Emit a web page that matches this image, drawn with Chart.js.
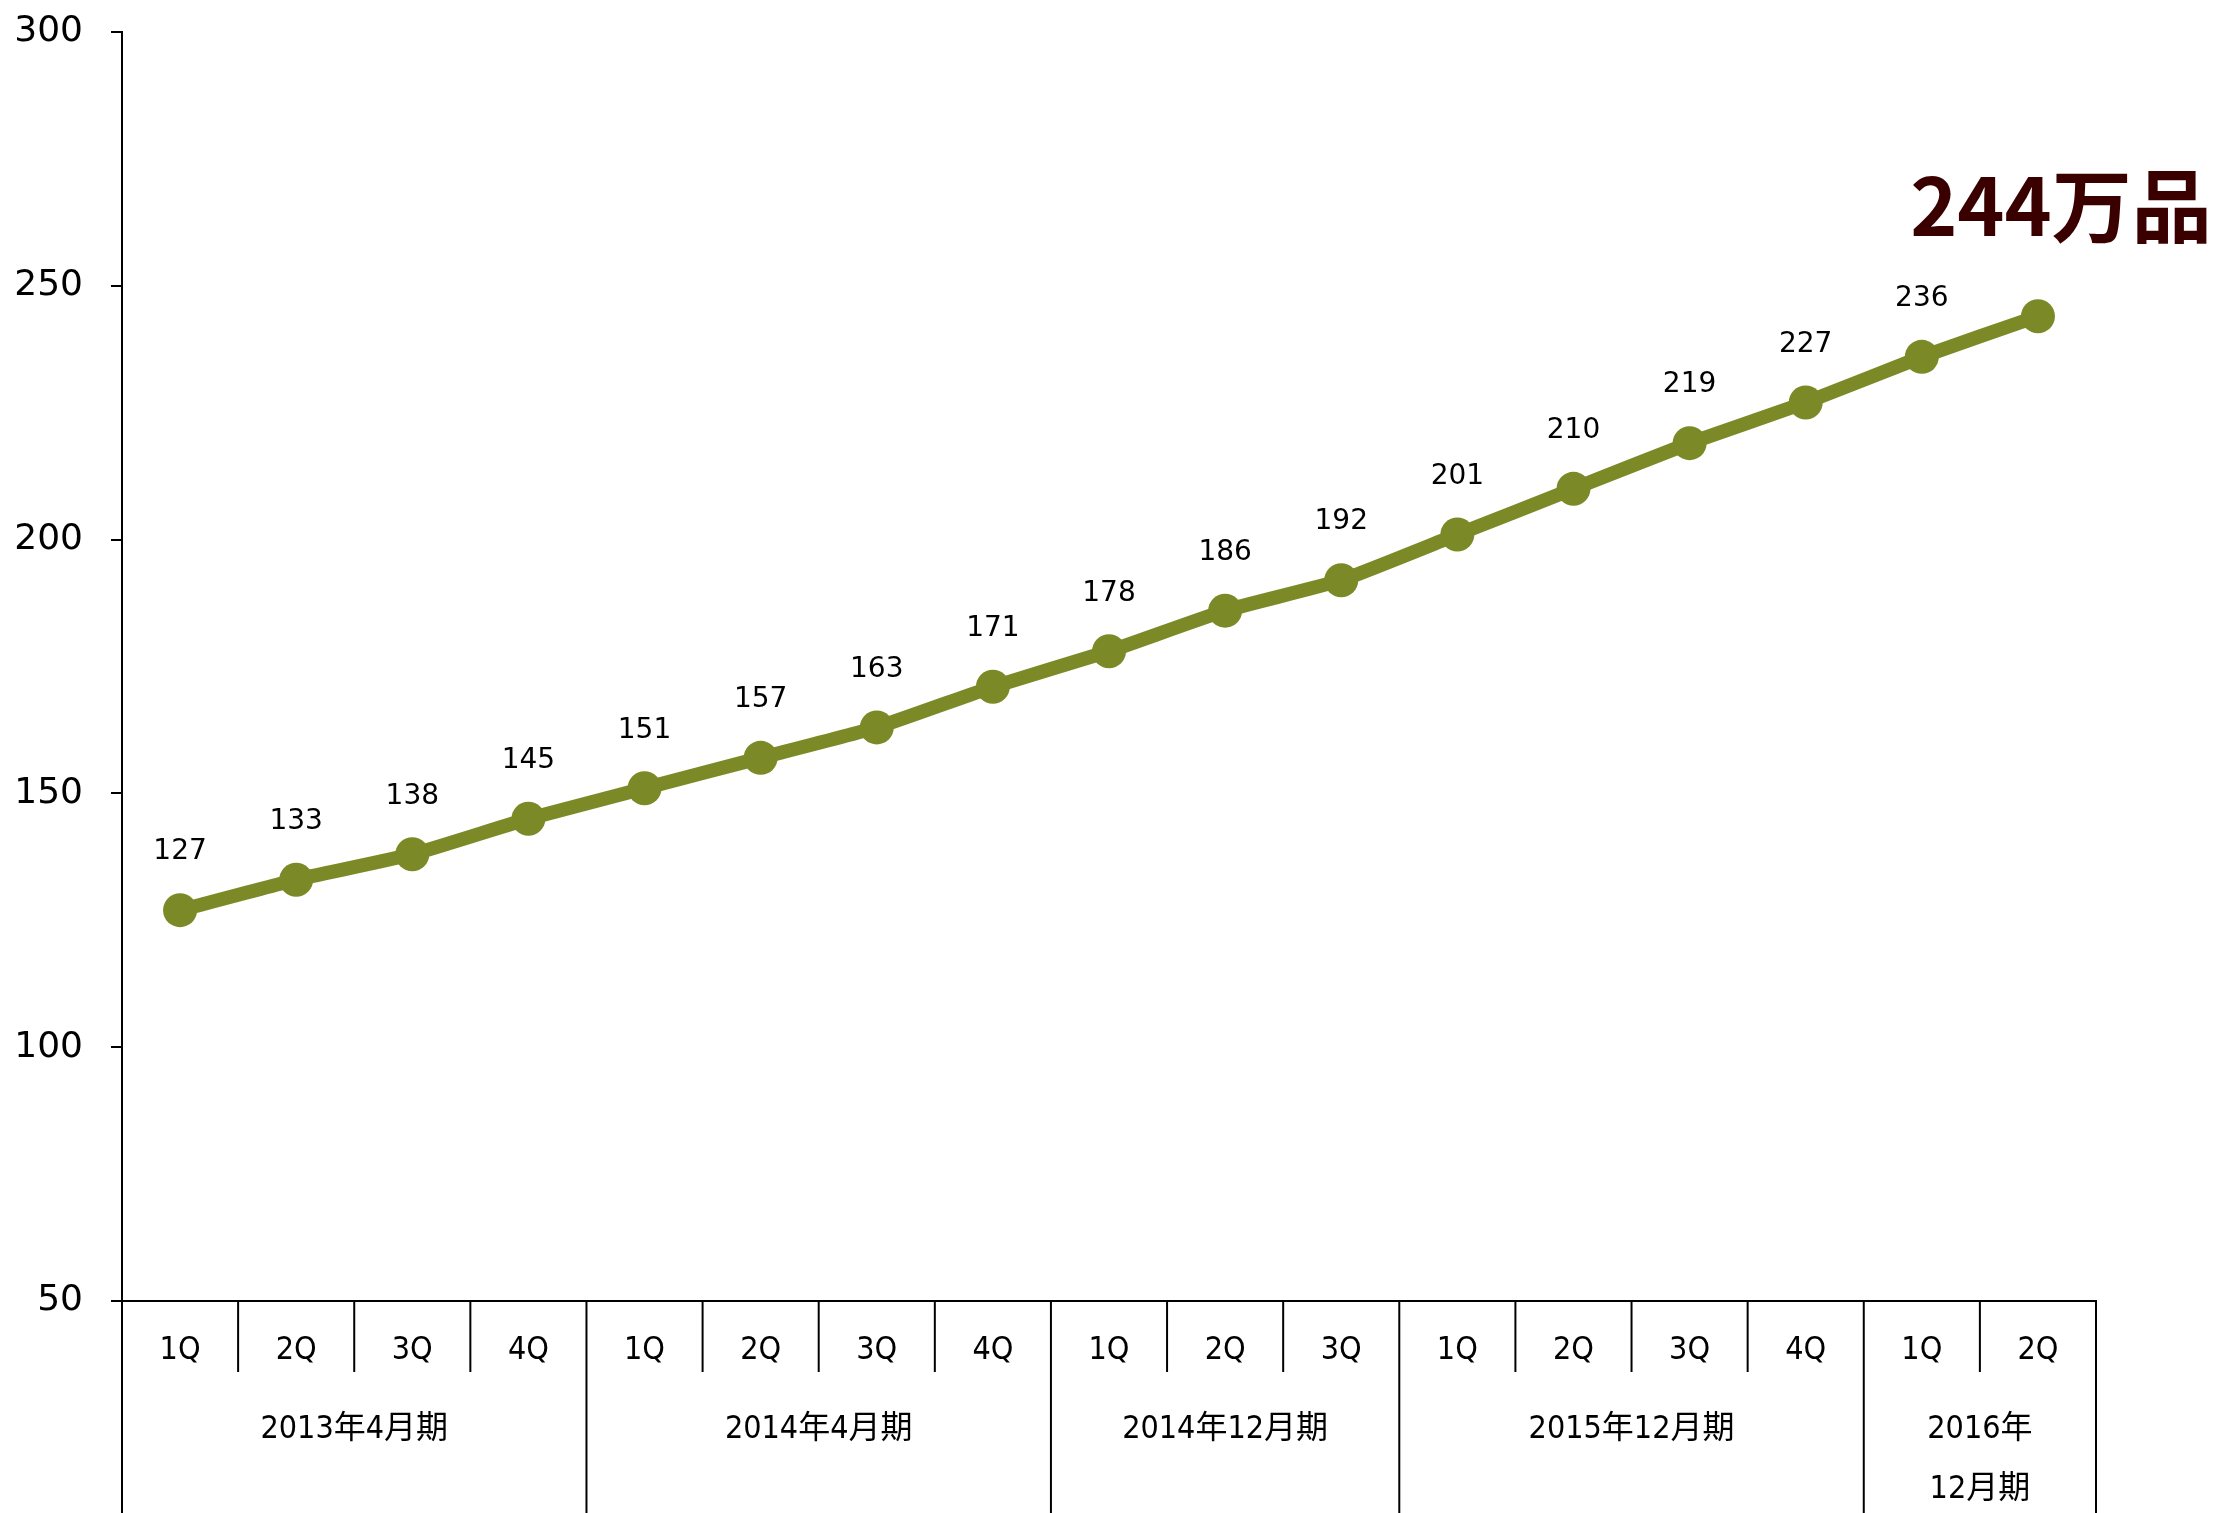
<!DOCTYPE html>
<html>
<head>
<meta charset="utf-8">
<script src="https://cdn.jsdelivr.net/npm/chart.js@4.4.0/dist/chart.umd.min.js"></script>
<style>
  html, body { margin: 0; padding: 0; background: #fff; }
  canvas { display: block; }
</style>
</head>
<body>
<canvas id="chart" width="2236" height="1513"></canvas>
<script>
// データ
const quarters = ['1Q', '2Q', '3Q', '4Q', '1Q', '2Q', '3Q', '4Q', '1Q', '2Q', '3Q', '1Q', '2Q', '3Q', '4Q', '1Q', '2Q'];
const values = [127, 133, 138, 145, 151, 157, 163, 171, 178, 186, 192, 201, 210, 219, 227, 236, 244];
const groupLabels = [['2013年4月期'], ['2014年4月期'], ['2014年12月期'], ['2015年12月期'], ['2016年', '12月期']];
const groupSizes = [4, 4, 3, 4, 2];
const yTicks = [50, 100, 150, 200, 250, 300];
const highlightText = '244万品';

const lineColor = '#7b8a27';
const labelFont = '32px "DejaVu Sans Condensed", "Noto Sans CJK JP", sans-serif';

// 値ラベル（最後の点は大きいラベル）
const valueLabels = {
  id: 'valueLabels',
  afterDatasetsDraw(chart) {
    const ctx = chart.ctx;
    const pts = chart.getDatasetMeta(0).data;
    ctx.save();
    ctx.fillStyle = '#000';
    ctx.font = '28px "DejaVu Sans", sans-serif';
    ctx.textAlign = 'center';
    ctx.textBaseline = 'middle';
    for (let i = 0; i < pts.length - 1; i++) {
      ctx.fillText(values[i], pts[i].x, pts[i].y - 58);
    }
    const last = pts[pts.length - 1];
    ctx.fillStyle = '#3a0000';
    ctx.font = 'bold 80px "Noto Sans CJK JP", sans-serif';
    ctx.textBaseline = 'alphabetic';
    ctx.fillText(highlightText, last.x + 23, last.y - 80);
    ctx.restore();
  }
};

// 区切り線と期ラベル
const groupAxis = {
  id: 'groupAxis',
  afterDraw(chart) {
    const ctx = chart.ctx;
    const xs = chart.scales.x;
    const area = chart.chartArea;
    const bottom = chart.height;
    const edge = i => (xs.getPixelForValue(i - 1) + xs.getPixelForValue(i)) / 2;
    ctx.save();
    ctx.strokeStyle = '#000';
    ctx.lineWidth = 2;

    // 縦の外枠
    ctx.beginPath();
    ctx.moveTo(xs.left, area.bottom); ctx.lineTo(xs.left, bottom);
    ctx.moveTo(xs.right, area.bottom); ctx.lineTo(xs.right, bottom);
    ctx.stroke();

    let start = 0;
    ctx.fillStyle = '#000';
    ctx.font = labelFont;
    ctx.textAlign = 'center';
    ctx.textBaseline = 'middle';
    groupSizes.forEach((n, g) => {
      const end = start + n;
      // 四半期の区切り
      for (let i = start + 1; i < end; i++) {
        ctx.beginPath();
        ctx.moveTo(edge(i), area.bottom);
        ctx.lineTo(edge(i), area.bottom + 71);
        ctx.stroke();
      }
      // 期の区切り
      if (end < values.length) {
        ctx.beginPath();
        ctx.moveTo(edge(end), area.bottom);
        ctx.lineTo(edge(end), bottom);
        ctx.stroke();
      }
      const left = start === 0 ? xs.left : edge(start);
      const right = end === values.length ? xs.right : edge(end);
      const cx = (left + right) / 2;
      groupLabels[g].forEach((t, k) => {
        ctx.fillText(t, cx, area.bottom + 129 + k * 60);
      });
      start = end;
    });
    ctx.restore();
  }
};

new Chart(document.getElementById('chart'), {
  type: 'line',
  data: {
    labels: quarters,
    datasets: [{
      data: values,
      borderColor: lineColor,
      backgroundColor: lineColor,
      borderWidth: 14,
      tension: 0.15,
      pointRadius: 17,
      pointHoverRadius: 17,
      pointBorderWidth: 0,
      pointBackgroundColor: lineColor,
      clip: false
    }]
  },
  options: {
    responsive: false,
    animation: false,
    devicePixelRatio: 1,
    layout: { autoPadding: false, padding: { top: 32, right: 140, left: 0, bottom: 0 } },
    plugins: { legend: { display: false }, tooltip: { enabled: false } },
    scales: {
      x: {
        offset: true,
        grid: { display: false },
        border: { display: true, color: '#000', width: 2 },
        ticks: {
          color: '#000',
          font: { family: '"DejaVu Sans Condensed", "Noto Sans CJK JP", sans-serif', size: 32 },
          padding: 22,
          maxRotation: 0,
          autoSkip: false
        },
        afterFit(scale) { scale.height = 212; scale.paddingLeft = 0; scale.paddingRight = 0; }
      },
      y: {
        min: 50,
        max: 300,
        afterBuildTicks(scale) { scale.ticks = yTicks.map(v => ({ value: v })); },
        grid: { drawOnChartArea: false, drawTicks: true, tickLength: 11, color: '#000', lineWidth: 2 },
        border: { display: true, color: '#000', width: 2 },
        ticks: {
          color: '#000',
          font: { family: '"DejaVu Sans", sans-serif', size: 36 },
          padding: 28
        },
        afterFit(scale) { scale.width = 122; scale.paddingTop = 0; scale.paddingBottom = 0; }
      }
    }
  },
  plugins: [valueLabels, groupAxis]
});
</script>
</body>
</html>
